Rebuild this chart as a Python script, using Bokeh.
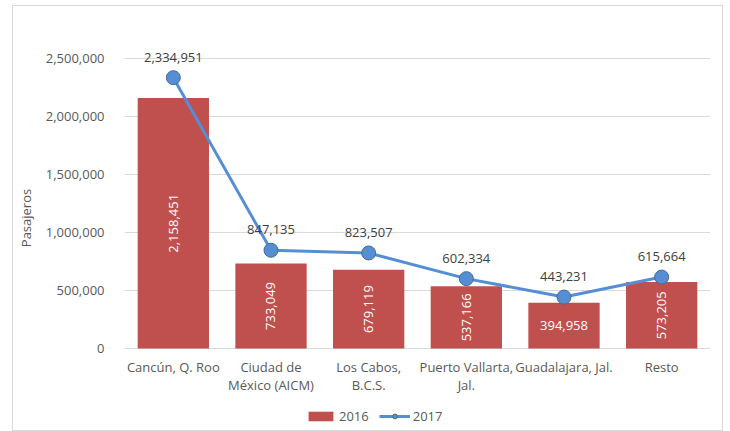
import math
from bokeh.plotting import figure
from bokeh.models import (ColumnDataSource, NumeralTickFormatter, Legend, LegendItem,
                          FixedTicker, LabelSet)
from bokeh.core.properties import value
from bokeh.embed import file_html
from bokeh.resources import INLINE

categories = ["Cancún, Q. Roo", "Ciudad de México (AICM)", "Los Cabos, B.C.S.",
              "Puerto Vallarta, Jal.", "Guadalajara, Jal.", "Resto"]
tick_labels = ["Cancún, Q. Roo", "Ciudad de\nMéxico (AICM)", "Los Cabos,\nB.C.S.",
               "Puerto Vallarta,\nJal.", "Guadalajara, Jal.", "Resto"]
values_2016 = [2158451, 733049, 679119, 537166, 394958, 573205]
values_2017 = [2334951, 847135, 823507, 602334, 443231, 615664]
y_ticks = [0, 500000, 1000000, 1500000, 2000000, 2500000]

FONT = "Open Sans"
FS = "13px"
TXT = "#595959"

def fmt(v):
    return f"{v:,}"

line1 = [t.split("\n")[0] for t in tick_labels]
line2 = [t.split("\n")[1] if "\n" in t else "" for t in tick_labels]

src = ColumnDataSource(dict(
    cat=categories,
    v16=values_2016,
    v17=values_2017,
    zero=[0] * len(categories),
    mid16=[v / 2 for v in values_2016],
    lab16=[fmt(v) for v in values_2016],
    lab17=[fmt(v) for v in values_2017],
    ang16=[math.pi / 2 if v > 450000 else 0 for v in values_2016],
    t1=line1,
    t2=line2,
))

# layout (pixels): frame spans the whole chart so annotations are not clipped
FRAME_TOP, FRAME_BOT = 10, 425      # page pixels
Y0_PX, YMAX_PX = 348, 58            # page pixel of value 0 and of axis max
Y_MAX = y_ticks[-1]
k = Y_MAX / (Y0_PX - YMAX_PX)
y_lo = -(FRAME_BOT - Y0_PX) * k
y_hi = Y_MAX + (YMAX_PX - FRAME_TOP) * k

p = figure(x_range=categories, y_range=(y_lo, y_hi), width=711, height=426,
           output_backend="svg", toolbar_location=None,
           min_border_left=109, min_border_right=14, min_border_top=4, min_border_bottom=7)
p.styles = {"border": "1px solid #d9d9d9", "margin-left": "12px", "margin-top": "5px"}
p.outline_line_color = None
p.background_fill_color = "white"
p.border_fill_color = "white"

bars = p.vbar(x="cat", top="v16", width=0.73, source=src, fill_color="#C0504D",
              line_color=None)
line = p.line(x="cat", y="v17", source=src, line_color="#558ED5", line_width=3)
pts = p.scatter(x="cat", y="v17", source=src, size=14, fill_color="#558ED5",
                line_color="#4A6A8F", line_width=1)

# labels
bl = LabelSet(x="cat", y="mid16", text="lab16", angle="ang16", source=src,
              text_color="white", text_font=value(FONT), text_font_size=FS,
              text_align="center", text_baseline="middle")
ll = LabelSet(x="cat", y="v17", text="lab17", source=src, y_offset=16,
              text_color="#404040", text_font=value(FONT), text_font_size=FS,
              text_align="center", text_baseline="bottom")
p.add_layout(bl)
p.add_layout(ll)

# category labels (two rows)
xl1 = LabelSet(x="cat", y="zero", text="t1", source=src, y_offset=-9,
               text_color=TXT, text_font=value(FONT), text_font_size=FS,
               text_align="center", text_baseline="top")
xl2 = LabelSet(x="cat", y="zero", text="t2", source=src, y_offset=-27,
               text_color=TXT, text_font=value(FONT), text_font_size=FS,
               text_align="center", text_baseline="top")
p.add_layout(xl1)
p.add_layout(xl2)

# axes
p.yaxis.ticker = FixedTicker(ticks=y_ticks)
p.yaxis.formatter = NumeralTickFormatter(format="0,0")
p.yaxis.axis_line_color = None
p.yaxis.major_tick_line_color = None
p.yaxis.minor_tick_line_color = None
p.yaxis.major_label_text_font = FONT
p.yaxis.major_label_text_font_size = FS
p.yaxis.major_label_text_color = TXT
p.yaxis.major_label_standoff = 14
p.yaxis.axis_label = "Pasajeros"
p.yaxis.axis_label_text_font = FONT
p.yaxis.axis_label_text_font_size = FS
p.yaxis.axis_label_text_font_style = "normal"
p.yaxis.axis_label_text_color = TXT
p.yaxis.axis_label_standoff = 8

p.xaxis.visible = False

p.xgrid.grid_line_color = None
p.ygrid.grid_line_color = "#d9d9d9"
p.ygrid.grid_line_width = 1

legend = Legend(items=[LegendItem(label="2016", renderers=[bars]),
                       LegendItem(label="2017", renderers=[line, pts])],
                orientation="horizontal", location=(181, 0),
                border_line_color=None, background_fill_alpha=0,
                padding=0, margin=0, spacing=10, glyph_width=31, glyph_height=12,
                label_text_font=FONT, label_text_font_size=FS,
                label_text_color=TXT, label_standoff=3, label_height=14)
p.add_layout(legend)

open("out.html", "w").write(file_html(p, INLINE))
